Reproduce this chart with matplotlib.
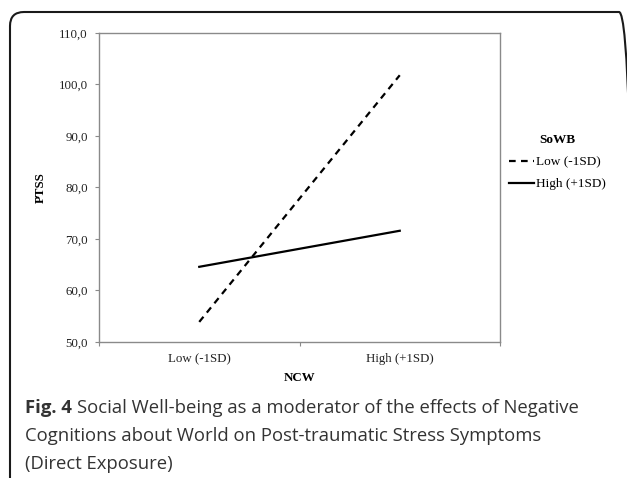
import matplotlib
matplotlib.use("Agg")
import matplotlib.pyplot as plt
from matplotlib.patches import FancyBboxPatch
from matplotlib.lines import Line2D

# data
ncw_levels = ["Low (-1SD)", "High (+1SD)"]
sowb_low = [53.9, 101.8]
sowb_high = [64.6, 71.6]
series_names = ["Low (-1SD)", "High (+1SD)"]
y_ticks = [50, 60, 70, 80, 90, 100, 110]

serif = "Liberation Serif"
axis_grey = "#8a8a8a"

fig = plt.figure(figsize=(6.27, 4.78), dpi=100)
ax = fig.add_axes([99 / 627, 136 / 478, 401 / 627, 309 / 478])

x = list(range(len(ncw_levels)))
ax.plot(x, sowb_low, color="black", lw=1.6, linestyle=(0, (3, 2.4)))
ax.plot(x, sowb_high, color="black", lw=1.6)

ax.set_xlim(-0.5, len(ncw_levels) - 0.5)
ax.set_ylim(y_ticks[0], y_ticks[-1])
ax.set_yticks(y_ticks)
ax.set_yticklabels([f"{v:.1f}".replace(".", ",") for v in y_ticks],
                   fontfamily=serif, fontsize=9.3, color="#222222")

# category labels sit between the boundary tick marks, like Excel
ax.set_xticks([-0.5, 0.5, 1.5])
ax.set_xticklabels([])
ax.set_xticks(x, minor=True)
ax.set_xticklabels(ncw_levels, minor=True, fontfamily=serif, fontsize=9.3, color="#222222")
ax.tick_params(axis="x", which="minor", length=0, pad=8)
ax.tick_params(axis="both", which="major", length=3, width=0.8, color=axis_grey, pad=5)

for sp in ax.spines.values():
    sp.set_color(axis_grey)
    sp.set_linewidth(1.0)

ax.set_ylabel("PTSS", fontfamily=serif, fontsize=9.3, fontweight="bold")
ax.yaxis.set_label_coords(-0.13, 0.5)
ax.set_xlabel("NCW", fontfamily=serif, fontsize=9.3, fontweight="bold")
ax.xaxis.set_label_coords(0.5, -0.097)

handles = [Line2D([], [], color="black", lw=1.6, linestyle=(0, (3, 2.4))),
           Line2D([], [], color="black", lw=1.6)]
leg = fig.legend(handles, series_names, title="SoWB", loc="upper left",
                 bbox_to_anchor=(509 / 627, 1 - 134 / 478), frameon=False,
                 prop={"family": serif, "size": 9.5}, handlelength=1.9,
                 handletextpad=0.15, labelspacing=0.75, borderpad=0,
                 borderaxespad=0)
leg.get_title().set_fontfamily(serif)
leg.get_title().set_fontweight("bold")
leg.get_title().set_fontsize(9.5)

# rounded frame around the figure (bottom and right run off the image)
frame = FancyBboxPatch((10, -30), 623, 478 - 12 + 30,
                       boxstyle="round,pad=0,rounding_size=14",
                       transform=None, fill=False, edgecolor="#1a1a1a", lw=1.5)
fig.patches.append(frame)

# caption
cap_font = "Open Sans"
cap_color = "#333333"
cap_size = 13.3
x0 = 25 / 627
fig.canvas.draw()
t = fig.text(x0, 1 - 413 / 478, "Fig. 4", fontfamily=cap_font, fontweight="bold",
             fontsize=cap_size, color=cap_color, va="baseline")
bb = t.get_window_extent(renderer=fig.canvas.get_renderer())
fig.text((bb.x1 + 5) / 627, 1 - 413 / 478,
         "Social Well-being as a moderator of the effects of Negative",
         fontfamily=cap_font, fontsize=cap_size, color=cap_color, va="baseline")
fig.text(x0, 1 - 441 / 478, "Cognitions about World on Post-traumatic Stress Symptoms",
         fontfamily=cap_font, fontsize=cap_size, color=cap_color, va="baseline")
fig.text(x0, 1 - 469 / 478, "(Direct Exposure)",
         fontfamily=cap_font, fontsize=cap_size, color=cap_color, va="baseline")

fig.savefig("out.png", dpi=100)
